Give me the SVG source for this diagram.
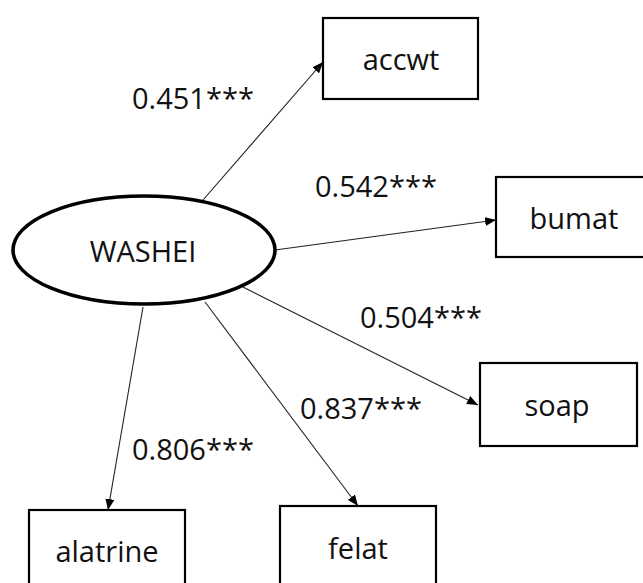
<svg xmlns="http://www.w3.org/2000/svg" width="643" height="583" viewBox="0 0 643 583">
<style>
text{font-family:"Open Sans","Liberation Sans",sans-serif;font-size:29px;fill:#111}
.box{fill:#fff;stroke:#000;stroke-width:2.2}
.ell{fill:#fff;stroke:#000;stroke-width:3.6}
.c{stroke:#222;stroke-width:1.1;fill:none;marker-end:url(#ah)}
.m{text-anchor:middle}
</style>
<defs>
<marker id="ah" markerUnits="userSpaceOnUse" markerWidth="11" markerHeight="9" refX="11" refY="4.5" orient="auto">
<path d="M0,0 L11,4.5 L0,9 z" fill="#000"/>
</marker>
</defs>
<g id="connectors">
<line class="c" x1="203" y1="200" x2="323" y2="62"/>
<line class="c" x1="275" y1="250" x2="496" y2="220"/>
<line class="c" x1="243" y1="287" x2="478" y2="405"/>
<line class="c" x1="205" y1="302" x2="358" y2="506"/>
<line class="c" x1="143" y1="307" x2="108" y2="510"/>
<text x="132" y="109">0.451***</text>
<text x="315" y="197">0.542***</text>
<text x="360" y="328">0.504***</text>
<text x="300" y="419">0.837***</text>
<text x="132" y="460">0.806***</text>
</g>
<g id="WASHEI">
<ellipse class="ell" cx="144" cy="250" rx="131" ry="54"/>
<text class="m" x="143" y="262">WASHEI</text>
</g>
<g id="accwt">
<rect class="box" x="323" y="18" width="155" height="81"/>
<text class="m" x="401" y="70">accwt</text>
</g>
<g id="bumat">
<rect class="box" x="496" y="177" width="152" height="80"/>
<text class="m" x="574" y="229">bumat</text>
</g>
<g id="soap">
<rect class="box" x="480" y="363" width="157" height="83"/>
<text class="m" x="557" y="416">soap</text>
</g>
<g id="alatrine">
<rect class="box" x="29" y="510" width="156" height="100"/>
<text class="m" x="107" y="562">alatrine</text>
</g>
<g id="felat">
<rect class="box" x="280" y="506" width="156" height="100"/>
<text class="m" x="358" y="559">felat</text>
</g>
</svg>
